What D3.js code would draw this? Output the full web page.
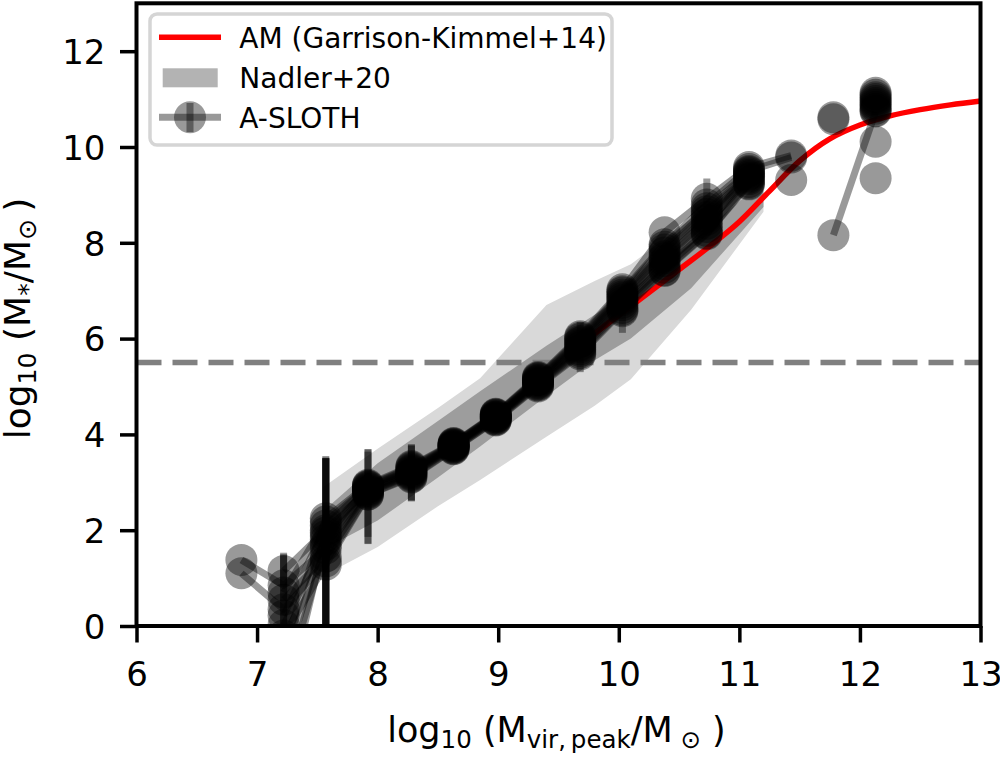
<!DOCTYPE html>
<html><head><meta charset="utf-8">
<script src="https://cdn.jsdelivr.net/npm/d3@7"></script>
<style>
body{margin:0;background:#fff}
svg{display:block}
text{font-family:"DejaVu Sans",sans-serif;fill:#000}
</style>
</head><body>
<svg id="chart" width="1000" height="760"></svg>
<script>
// ---------------- data ----------------
const xTicks = [6, 7, 8, 9, 10, 11, 12, 13];
const yTicks = [0, 2, 4, 6, 8, 10, 12];

// A-SLOTH halo-mass bins (log10 Mvir,peak)
const massBins = [6.87, 7.22, 7.57, 7.92, 8.28, 8.63, 8.98, 9.33, 9.68, 10.03, 10.38, 10.73, 11.08, 11.43, 11.78, 12.13];

// A-SLOTH median log10 M* per bin, one row per tree (null = empty bin)
const aslothMedians = [
  [1.10, 0.35, 1.35, 2.75, 3.12, 3.70, 4.30, 5.02, 5.70, 6.60, 7.43, 8.20, 9.24, null, null, 10.76],
  [1.38, 0.85, 1.62, 2.80, 3.17, 3.73, 4.33, 5.06, 5.78, 6.70, 7.55, 8.33, 9.50, 9.78, null, null],
  [null, 0.02, 1.80, 2.84, 3.21, 3.76, 4.36, 5.10, 5.85, 6.80, 7.68, 8.48, 9.36, null, null, 10.84],
  [null, -0.9, 1.95, 2.88, 3.25, 3.78, 4.38, 5.13, 5.92, 6.88, 7.80, 8.60, 9.42, null, null, 10.92],
  [null, 0.22, 2.10, 2.92, 3.30, 3.80, 4.41, 5.17, 5.99, 6.96, 7.92, 8.72, 9.48, null, null, 11.00],
  [null, -0.5, 2.25, 2.95, 3.34, 3.82, 4.43, 5.20, 6.05, 7.03, 8.22, 8.92, 9.58, 9.82, null, null],
  [null, 0.55, 1.45, 2.78, 3.15, 3.72, 4.32, 5.04, 5.74, 6.64, 7.48, 8.25, 9.27, null, null, 11.09],
  [null, -1.3, 1.70, 2.82, 3.19, 3.75, 4.35, 5.08, 5.82, 6.75, 7.62, 8.40, 9.33, null, null, 11.13],
  [null, 1.15, 2.00, 2.86, 3.23, 3.77, 4.37, 5.12, 5.88, 6.84, 7.72, 8.54, 9.39, null, null, 10.80],
  [null, -0.2, 1.28, 2.74, 3.10, 3.69, 4.29, 5.00, 5.67, 6.57, 7.41, 8.18, 9.22, null, null, 10.88],
  [null, -1.8, 1.88, 2.90, 3.27, 3.79, 4.40, 5.15, 5.95, 6.92, 7.86, 8.66, 9.45, null, null, 10.96],
  [null, 0.70, 2.18, 2.93, 3.32, 3.81, 4.42, 5.18, 6.02, 6.99, 7.97, 8.80, 9.54, null, null, 11.04],
  [null, null, null, null, null, null, null, null, null, null, null, null, null, null, 8.16, 10.74],
  [null, null, null, null, null, null, null, null, null, null, null, null, null, 9.31, null, null],
  [null, null, null, null, null, null, null, null, null, null, null, null, null, null, 10.58, null],
  [null, null, null, null, null, null, null, null, null, null, null, null, null, null, 10.62, null],
  [null, null, null, null, null, null, null, null, null, null, null, null, null, null, null, 10.11],
  [null, null, null, null, null, null, null, null, null, null, null, null, null, null, null, 9.35]
];

// visible error bars: [tree row, bin index, down, up]
const aslothErrors = [
  [2, 1, 0.50, 1.48], [4, 1, 0.60, 1.25], [8, 1, 0.30, 0.38],
  [0, 2, 1.60, 2.20], [2, 2, 2.00, 1.72], [3, 2, 2.20, 1.55], [4, 2, 2.30, 1.40], [7, 2, 1.90, 1.80], [10, 2, 2.10, 1.62],
  [2, 3, 1.13, 0.85], [4, 3, 1.20, 0.77], [8, 3, 1.00, 0.78],
  [3, 4, 0.65, 0.54], [5, 4, 0.72, 0.45], [9, 4, 0.48, 0.66],
  [9, 8, 0.37, 0.20], [5, 8, 0.20, 0.30],
  [9, 9, 0.45, 0.20],
  [5, 11, 0.20, 0.42]
];

// Nadler+20 band
const nadlerMass    = [7.55, 8.0, 8.5, 8.85, 9.4, 9.8, 10.1, 10.6, 11.2];
const nadlerOuterLo = [1.05, 1.65, 2.50, 3.05, 3.95, 4.60, 5.15, 6.60, 8.65];
const nadlerOuterHi = [2.90, 3.70, 4.55, 5.17, 6.70, 7.20, 7.55, 8.50, 9.45];
const nadlerInnerLo = [1.60, 2.20, 3.10, 3.75, 4.80, 5.55, 6.00, 7.05, 8.75];
const nadlerInnerHi = [2.40, 3.40, 4.28, 4.90, 5.85, 6.50, 7.00, 8.00, 9.30];

// AM relation (Garrison-Kimmel+14)
const amMass    = [9.75, 10.0, 10.25, 10.5, 10.75, 11.0, 11.25, 11.5, 11.75, 12.0, 12.25, 12.5, 12.75, 13.0];
const amStellar = [6.01, 6.49, 6.96, 7.44, 7.92, 8.44, 9.08, 9.71, 10.17, 10.46, 10.65, 10.78, 10.88, 10.96];

const resolutionLimit = 5.50;

// ---------------- drawing ----------------
const svg = d3.select("#chart");
const P = {left: 136.5, right: 980.5, top: 3.3, bottom: 626};
const x = d3.scaleLinear().domain([6, 13]).range([P.left, P.right]);
const y = d3.scaleLinear().domain([0, 13]).range([P.bottom, P.top]);

svg.append("rect").attr("width", 1000).attr("height", 760).attr("fill", "#fff");

svg.append("defs").append("clipPath").attr("id", "clip")
  .append("rect").attr("x", P.left).attr("y", P.top)
  .attr("width", P.right - P.left).attr("height", P.bottom - P.top);

const g = svg.append("g").attr("clip-path", "url(#clip)");

// Nadler bands
const nad = nadlerMass.map((m, i) => ({m, olo: nadlerOuterLo[i], ohi: nadlerOuterHi[i], ilo: nadlerInnerLo[i], ihi: nadlerInnerHi[i]}));
g.append("path").datum(nad)
  .attr("d", d3.area().x(d => x(d.m)).y0(d => y(d.olo)).y1(d => y(d.ohi)))
  .attr("fill", "#d9d9d9");
g.append("path").datum(nad)
  .attr("d", d3.area().x(d => x(d.m)).y0(d => y(d.ilo)).y1(d => y(d.ihi)))
  .attr("fill", "#9d9d9d");

// AM curve
g.append("path").datum(amMass.map((m, i) => [m, amStellar[i]]))
  .attr("d", d3.line().x(d => x(d[0])).y(d => y(d[1])).curve(d3.curveCatmullRom))
  .attr("fill", "none").attr("stroke", "#ff0000").attr("stroke-width", 5.5);

// resolution limit
g.append("line").attr("x1", P.left).attr("x2", P.right)
  .attr("y1", y(resolutionLimit)).attr("y2", y(resolutionLimit))
  .attr("stroke", "#808080").attr("stroke-width", 5.5).attr("stroke-dasharray", "25,11");

// A-SLOTH
const aLine = d3.line().defined(d => d[1] != null).x(d => x(d[0])).y(d => y(d[1]));
aslothMedians.forEach((row, i) => {
  const pts = massBins.map((m, j) => [m, row[j]]);
  const sg = g.append("g");
  sg.append("path").attr("d", aLine(pts)).attr("fill", "none")
    .attr("stroke", "#000").attr("stroke-opacity", 0.4).attr("stroke-width", 7)
    .attr("stroke-linejoin", "round");
  aslothErrors.filter(e => e[0] === i).forEach(e => {
    const v = row[e[1]];
    sg.append("line").attr("x1", x(massBins[e[1]])).attr("x2", x(massBins[e[1]]))
      .attr("y1", y(v - e[2])).attr("y2", y(v + e[3]))
      .attr("stroke", "#000").attr("stroke-opacity", 0.4).attr("stroke-width", 7);
  });
  sg.selectAll("circle").data(pts.filter(d => d[1] != null)).join("circle")
    .attr("cx", d => x(d[0])).attr("cy", d => y(d[1])).attr("r", 16)
    .attr("fill", "#000").attr("fill-opacity", 0.4);
});

// axes
const fs = 34;
const xa = svg.append("g").attr("transform", `translate(0,${P.bottom})`)
  .call(d3.axisBottom(x).tickValues(xTicks).tickSize(16.5).tickPadding(0).tickFormat(d3.format("d")));
xa.select(".domain").remove();
xa.selectAll(".tick line").attr("stroke", "#000").attr("stroke-width", 3.5);
xa.selectAll(".tick text").attr("y", 59.5).attr("dy", 0).attr("font-size", fs)
  .attr("font-family", "DejaVu Sans");

const ya = svg.append("g").attr("transform", `translate(${P.left},0)`)
  .call(d3.axisLeft(y).tickValues(yTicks).tickSize(16.5).tickPadding(14.5).tickFormat(d3.format("d")));
ya.select(".domain").remove();
ya.selectAll(".tick line").attr("stroke", "#000").attr("stroke-width", 3.5);
ya.selectAll(".tick text").attr("dy", "0.36em").attr("font-size", fs)
  .attr("font-family", "DejaVu Sans");

// spines
svg.append("rect").attr("x", P.left).attr("y", P.top)
  .attr("width", P.right - P.left).attr("height", P.bottom - P.top)
  .attr("fill", "none").attr("stroke", "#000").attr("stroke-width", 4);

// axis titles
const lfs = 35;
const xt = svg.append("text").attr("x", 556.5).attr("y", 741.7)
  .attr("text-anchor", "middle").attr("font-size", lfs);
xt.append("tspan").text("log");
xt.append("tspan").attr("dy", 6).attr("font-size", lfs * 0.7).text("10");
xt.append("tspan").attr("dy", -6).text(" (M");
xt.append("tspan").attr("dy", 6).attr("font-size", lfs * 0.7).text("vir,\u2009peak");
xt.append("tspan").attr("dy", -6).text("/M");
xt.append("tspan").attr("dy", 6).attr("font-size", lfs * 0.7).text(" \u2299");
xt.append("tspan").attr("dy", -6).text(" )");

const yfs = 36;
const yt = svg.append("text").attr("transform", "translate(30,318.5) rotate(-90)")
  .attr("text-anchor", "middle").attr("font-size", yfs);
yt.append("tspan").text("log");
yt.append("tspan").attr("dy", 6).attr("font-size", yfs * 0.7).text("10");
yt.append("tspan").attr("dy", -6).text(" (M");
yt.append("tspan").attr("dy", 6).attr("font-size", yfs * 0.7).text("*");
yt.append("tspan").attr("dy", -6).text("/M");
yt.append("tspan").attr("dy", 6).attr("font-size", yfs * 0.7).text("\u2299");
yt.append("tspan").attr("dy", -6).text("\u2009)");

// legend
const lg = svg.append("g");
lg.append("rect").attr("x", 150).attr("y", 14).attr("width", 462).attr("height", 131)
  .attr("rx", 7).attr("fill", "#fff").attr("fill-opacity", 0.9)
  .attr("stroke", "#d5d5d5").attr("stroke-width", 3.5);
lg.append("line").attr("x1", 159).attr("x2", 221).attr("y1", 37.3).attr("y2", 37.3)
  .attr("stroke", "#ff0000").attr("stroke-width", 5.5);
lg.append("rect").attr("x", 162.7).attr("y", 68.3).attr("width", 55).attr("height", 19)
  .attr("fill", "#b3b3b3");
lg.append("line").attr("x1", 159).attr("x2", 221).attr("y1", 117.3).attr("y2", 117.3)
  .attr("stroke", "#000").attr("stroke-opacity", 0.4).attr("stroke-width", 7);
lg.append("line").attr("x1", 190).attr("x2", 190).attr("y1", 103).attr("y2", 132)
  .attr("stroke", "#000").attr("stroke-opacity", 0.4).attr("stroke-width", 7);
lg.append("circle").attr("cx", 190).attr("cy", 117.3).attr("r", 16)
  .attr("fill", "#000").attr("fill-opacity", 0.4);
const legendLabels = ["AM (Garrison-Kimmel+14)", "Nadler+20", "A-SLOTH"];
legendLabels.forEach((t, i) => {
  lg.append("text").attr("x", 239.3).attr("y", 48.3 + 40 * i).attr("font-size", 28).text(t);
});
</script>
</body></html>
